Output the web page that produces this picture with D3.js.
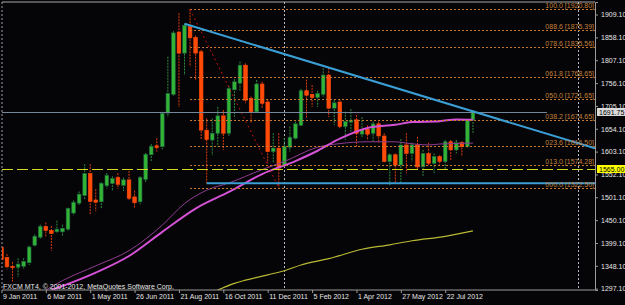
<!DOCTYPE html>
<html>
<head>
<meta charset="utf-8">
<script src="https://cdn.jsdelivr.net/npm/d3@7"></script>
<style>
  html, body { margin: 0; padding: 0; background: #000; }
  svg { display: block; font-family: 'Liberation Sans', Arial, sans-serif; }
</style>
</head>
<body>
<script>
// XAUUSD weekly, FXCM MT4
const weeks = [
  '2011-01-09','2011-01-16','2011-01-23','2011-01-30','2011-02-06','2011-02-13','2011-02-20','2011-02-27',
  '2011-03-06','2011-03-13','2011-03-20','2011-03-27','2011-04-03','2011-04-10','2011-04-17','2011-04-24',
  '2011-05-01','2011-05-08','2011-05-15','2011-05-22','2011-05-29','2011-06-05','2011-06-12','2011-06-19',
  '2011-06-26','2011-07-03','2011-07-10','2011-07-17','2011-07-24','2011-07-31','2011-08-07','2011-08-14',
  '2011-08-21','2011-08-28','2011-09-04','2011-09-11','2011-09-18','2011-09-25','2011-10-02','2011-10-09',
  '2011-10-16','2011-10-23','2011-10-30','2011-11-06','2011-11-13','2011-11-20','2011-11-27','2011-12-04',
  '2011-12-11','2011-12-18','2011-12-25','2012-01-01','2012-01-08','2012-01-15','2012-01-22','2012-01-29',
  '2012-02-05','2012-02-12','2012-02-19','2012-02-26','2012-03-04','2012-03-11','2012-03-18','2012-03-25',
  '2012-04-01','2012-04-08','2012-04-15','2012-04-22','2012-04-29','2012-05-06','2012-05-13','2012-05-20',
  '2012-05-27','2012-06-03','2012-06-10','2012-06-17','2012-06-24','2012-07-01','2012-07-08','2012-07-15',
  '2012-07-22','2012-07-29','2012-08-05','2012-08-12','2012-08-19','2012-08-26'
];
const open = [
  1389,1367,1347,1345,1347,1355,1394,1412,1436,1427,1424,1424,1430,1466,1488,1505,
  1554,1495,1491,1527,1532,1545,1528,1540,1502,1491,1541,1596,1616,1614,1689,1731,
  1870,1823,1882,1858,1826,1651,1629,1644,1683,1644,1741,1756,1796,1722,1692,1754,
  1714,1603,1611,1573,1613,1633,1662,1739,1731,1724,1731,1774,1700,1714,1659,1669,
  1674,1642,1653,1644,1665,1638,1581,1596,1573,1618,1599,1618,1569,1599,1577,1592,
  1581,1625,1607,1623,1615,1674
];
const high = [
  1394,1374,1357,1365,1365,1393,1418,1440,1445,1437,1449,1440,1478,1494,1514,1575,
  1575,1519,1535,1555,1548,1555,1545,1560,1516,1548,1600,1620,1633,1692,1815,1872,
  1912,1889,1920.8,1862,1830,1677,1677,1703,1696,1750,1765,1804,1800,1726,1763,1759,
  1720,1644,1644,1633,1659,1670,1743,1764,1752,1739,1789,1790,1718,1720,1692,1698,
  1685,1680,1662,1670,1670,1644,1599,1599,1631,1644,1623,1636,1607,1623,1599,1595,
  1629,1629,1629,1626,1676,1696
];
const low = [
  1355,1340,1313,1323,1342,1350,1390,1408,1412,1382,1421,1415,1425,1460,1484,1496,
  1462,1470,1475,1520,1515,1520,1515,1495,1478,1485,1535,1580,1603,1608,1680,1728,
  1703,1774,1793,1763,1629,1532,1595,1614,1607,1638,1681,1737,1711,1666,1689,1700,
  1577,1577,1522.5,1566,1603,1629,1660,1677,1703,1703,1726,1680,1662,1655,1629,1648,
  1614,1633,1628,1625,1622,1577,1528,1532,1532,1555,1581,1562,1547,1573,1555,1573,
  1562,1584,1599,1592,1612,1645
];
const close = [
  1362,1346,1344,1352,1358,1390,1414,1436,1427,1420,1430,1432,1476,1490,1508,1554,
  1492,1490,1532,1550,1543,1530,1540,1499,1489,1545,1597,1615,1612,1688,1733,1868,
  1823,1885,1857,1823,1651,1630,1644,1683,1644,1744,1759,1796,1718,1692,1754,1711,
  1603,1611,1566,1614,1635,1665,1739,1729,1724,1733,1774,1700,1712,1659,1670,1673,
  1644,1653,1642,1665,1638,1581,1596,1573,1618,1599,1618,1569,1599,1577,1592,1581,
  1625,1607,1623,1614,1673,1691.75
];

// time axis labels (every 8 weeks) and price axis labels
const dateTicks = ['2011-01-09','2011-03-06','2011-05-01','2011-06-26','2011-08-21','2011-10-16',
  '2011-12-11','2012-02-05','2012-04-01','2012-05-27','2012-07-22'];
const priceTicks = [1909.10,1858.10,1807.10,1756.10,1705.10,1654.10,1603.10,1552.10,1501.10,
  1450.10,1399.10,1348.10,1297.10];

// moving averages (bar index -> price)
const maFastIdx = [8,11,17,23,29,33,37,41,47,51,57,61,66,71,73,77,79,85];
const maFast = [1294,1315,1348,1382,1439,1487,1517,1533,1563,1581,1613,1621,1625,1625,1622,1618,1620,1622];
const maSlowIdx = [9,11,17,23,29,35,41,47,53,57,61,66,71,74,79,82,85];
const maSlow = [1294,1303,1333,1370,1424,1476,1513,1553,1582,1605,1632,1656,1663,1669,1671,1675,1674];
const maLongIdx = [39,42,44,48,51,54,59,65,70,74,80,85];
const maLong = [1294,1309,1316,1328,1337,1350,1364,1385,1395,1404,1414,1426];

// fibonacci retracement: Sep 2011 high -> Dec 2011 low
const fibFrom = { week: '2011-09-04', price: 1920.80 };
const fibTo = { week: '2011-12-25', price: 1522.50 };
const fibLevels = ['000.0','013.0','023.6','038.2','050.0','061.8','078.6','088.6','100.0'];
const fibPrices = [1522.50,1574.28,1616.50,1674.65,1721.65,1768.65,1835.56,1875.39,1920.80];

// drawn objects
const trendPoints = [{ week: '2011-08-28', price: 1888.5 }, { week: '2012-02-19', price: 1794.5 }];
const supportLine = { week: '2011-09-25', price: 1532.3 };
const alertPrice = 1565.00;
const bidPrice = 1691.75;
const yearLines = [51, 104]; // bar index of 1 Jan 2012 and 6 Jan 2013
const copyright = 'FXCM MT4, \u00a9 2001-2012, MetaQuotes Software Corp.';

// Set up the dimensions
const width = 625;
const height = 305;
const plot = { left: 2, right: 595, top: 2, bottom: 290 };

const svg = d3.select('body')
  .append('svg')
  .attr('width', width)
  .attr('height', height);

svg.append('rect')
  .attr('width', width)
  .attr('height', height)
  .attr('fill', '#050507');

svg.append('defs').append('clipPath')
  .attr('id', 'plot-clip')
  .append('rect')
  .attr('x', plot.left)
  .attr('y', plot.top)
  .attr('width', plot.right - plot.left)
  .attr('height', plot.bottom - plot.top);

// scales
const x = d3.scaleLinear()
  .domain([0.1, 107])
  .range([plot.left, plot.right]);

const y = d3.scaleLinear()
  .domain([1294.1, 1937.1])
  .range([plot.bottom, plot.top]);

const wi = w => weeks.indexOf(w);
const step = x(1) - x(0);
const bodyW = step * 0.66;

// chart frame
svg.append('line')
  .attr('x1', plot.left).attr('x2', plot.right)
  .attr('y1', plot.top).attr('y2', plot.top)
  .attr('stroke', '#a8a8a8');
svg.append('line')
  .attr('x1', plot.left).attr('x2', plot.left)
  .attr('y1', plot.top).attr('y2', plot.bottom)
  .attr('stroke', '#9a9aa8')
  .attr('stroke-dasharray', '2,2');

const chart = svg.append('g').attr('clip-path', 'url(#plot-clip)');

// year separators
chart.selectAll('.vline')
  .data(yearLines)
  .enter()
  .append('line')
  .attr('class', 'vline')
  .attr('x1', d => Math.round(x(d)) + 0.5)
  .attr('x2', d => Math.round(x(d)) + 0.5)
  .attr('y1', plot.top)
  .attr('y2', plot.bottom)
  .attr('stroke', '#b4bcc8')
  .attr('stroke-dasharray', '2,2');

// candles
const bars = weeks.map((w, i) => ({ i, o: open[i], h: high[i], l: low[i], c: close[i] }));

chart.selectAll('.wick')
  .data(bars)
  .enter()
  .append('line')
  .attr('class', 'wick')
  .attr('x1', d => x(d.i))
  .attr('x2', d => x(d.i))
  .attr('y1', d => y(d.h))
  .attr('y2', d => y(d.l))
  .attr('stroke', d => d.c >= d.o ? '#2f8a45' : '#e03a10')
  .attr('stroke-width', 1)
  .attr('stroke-dasharray', '2,1');

chart.selectAll('.body')
  .data(bars)
  .enter()
  .append('rect')
  .attr('class', 'body')
  .attr('x', d => x(d.i) - bodyW / 2)
  .attr('y', d => y(Math.max(d.o, d.c)))
  .attr('width', bodyW)
  .attr('height', d => Math.max(1, Math.abs(y(d.o) - y(d.c))))
  .attr('fill', d => d.c >= d.o ? '#33b435' : '#ff4a08')
  .attr('stroke', d => d.c >= d.o ? '#1d6a45' : '#ff4a08')
  .attr('stroke-width', 0.6);

// moving averages
const maLine = d3.line()
  .x(d => x(d[0]))
  .y(d => y(d[1]))
  .curve(d3.curveMonotoneX);

chart.append('path')
  .attr('d', maLine(d3.zip(maLongIdx, maLong)))
  .attr('fill', 'none')
  .attr('stroke', '#b9b934')
  .attr('stroke-width', 1.2);

chart.append('path')
  .attr('d', maLine(d3.zip(maFastIdx, maFast)))
  .attr('fill', 'none')
  .attr('stroke', '#8e3c92')
  .attr('stroke-width', 1);

chart.append('path')
  .attr('d', maLine(d3.zip(maSlowIdx, maSlow)))
  .attr('fill', 'none')
  .attr('stroke', '#d452d6')
  .attr('stroke-width', 2);

// fibonacci levels
const fibX = x(wi(fibFrom.week));
chart.selectAll('.fib')
  .data(fibPrices)
  .enter()
  .append('line')
  .attr('class', 'fib')
  .attr('x1', fibX)
  .attr('x2', plot.right)
  .attr('y1', d => Math.round(y(d)) + 0.5)
  .attr('y2', d => Math.round(y(d)) + 0.5)
  .attr('stroke', '#c97a2c')
  .attr('stroke-dasharray', '2,2');

chart.append('line')
  .attr('x1', x(wi(fibFrom.week)))
  .attr('y1', y(fibFrom.price))
  .attr('x2', x(wi(fibTo.week)))
  .attr('y2', y(fibTo.price))
  .attr('stroke', '#c01010')
  .attr('stroke-dasharray', '2,3');

// alert level
chart.append('line')
  .attr('x1', plot.left)
  .attr('x2', plot.right)
  .attr('y1', Math.round(y(alertPrice)) + 0.5)
  .attr('y2', Math.round(y(alertPrice)) + 0.5)
  .attr('stroke', '#d8d820')
  .attr('stroke-dasharray', '11,4');

// bid line
chart.append('line')
  .attr('x1', plot.left)
  .attr('x2', plot.right - 48)
  .attr('y1', Math.round(y(bidPrice)) + 0.5)
  .attr('y2', Math.round(y(bidPrice)) + 0.5)
  .attr('stroke', '#74879a');

// support line and falling trendline
chart.append('line')
  .attr('x1', x(wi(supportLine.week)))
  .attr('x2', plot.right)
  .attr('y1', y(supportLine.price))
  .attr('y2', y(supportLine.price))
  .attr('stroke', '#3b9fd6')
  .attr('stroke-width', 2);

const t0 = trendPoints[0], t1 = trendPoints[1];
const slope = (t1.price - t0.price) / (wi(t1.week) - wi(t0.week));
const tEnd = x.domain()[1];
chart.append('line')
  .attr('x1', x(wi(t0.week)))
  .attr('y1', y(t0.price))
  .attr('x2', x(tEnd))
  .attr('y2', y(t0.price + slope * (tEnd - wi(t0.week))))
  .attr('stroke', '#3b9fd6')
  .attr('stroke-width', 2);

// fib labels
svg.selectAll('.fib-label')
  .data(fibPrices)
  .enter()
  .append('text')
  .attr('class', 'fib-label')
  .attr('x', plot.right - 1)
  .attr('y', d => Math.round(y(d)) - 1.5)
  .attr('text-anchor', 'end')
  .attr('font-size', 7)
  .attr('fill', '#c4803c')
  .text((d, i) => `${fibLevels[i]}  [${d.toFixed(2)}]`);

// copyright
svg.append('text')
  .attr('x', 3)
  .attr('y', 288.5)
  .attr('font-size', 7)
  .attr('fill', '#e6e6e6')
  .text(copyright);

// price axis
const yAxis = d3.axisRight(y)
  .tickValues(priceTicks)
  .tickSize(3)
  .tickPadding(3)
  .tickFormat(d3.format('.2f'));

const yAxisG = svg.append('g')
  .attr('class', 'y-axis')
  .attr('transform', `translate(${plot.right}, 0)`)
  .call(yAxis);
yAxisG.select('.domain').attr('stroke', '#9a9a9a');
yAxisG.selectAll('line').attr('stroke', '#9a9a9a');
yAxisG.selectAll('text')
  .attr('fill', '#e6e6e6')
  .attr('font-size', 7)
  .attr('font-family', 'Liberation Sans, Arial, sans-serif');

// time axis
const xAxis = d3.axisBottom(x)
  .tickValues(dateTicks.map(wi))
  .tickSize(3)
  .tickFormat(i => d3.timeFormat('%-d %b %Y')(d3.timeParse('%Y-%m-%d')(weeks[i])));

const xAxisG = svg.append('g')
  .attr('class', 'x-axis')
  .attr('transform', `translate(0, ${plot.bottom})`)
  .call(xAxis);
xAxisG.select('.domain')
  .attr('d', `M${plot.left},0H${plot.right}`)
  .attr('stroke', '#9a9a9a');
xAxisG.selectAll('line').attr('stroke', '#9a9a9a');
xAxisG.selectAll('text')
  .attr('text-anchor', 'start')
  .attr('x', 1)
  .attr('y', 8.5)
  .attr('dy', 0)
  .attr('fill', '#e6e6e6')
  .attr('font-size', 7)
  .attr('font-family', 'Liberation Sans, Arial, sans-serif');

// price markers on the scale
const markers = [
  { price: alertPrice, bg: '#ffff00' },
  { price: bidPrice, bg: '#dadada' }
];
const marker = svg.selectAll('.marker')
  .data(markers)
  .enter()
  .append('g')
  .attr('class', 'marker')
  .attr('transform', d => `translate(${plot.right + 2}, ${Math.round(y(d.price))})`);
marker.append('rect')
  .attr('x', 0)
  .attr('y', -4)
  .attr('width', 28)
  .attr('height', 8)
  .attr('fill', d => d.bg);
marker.append('text')
  .attr('x', 2)
  .attr('y', 2.6)
  .attr('font-size', 7)
  .attr('fill', '#000')
  .text(d => d.price.toFixed(2));
</script>
</body>
</html>
